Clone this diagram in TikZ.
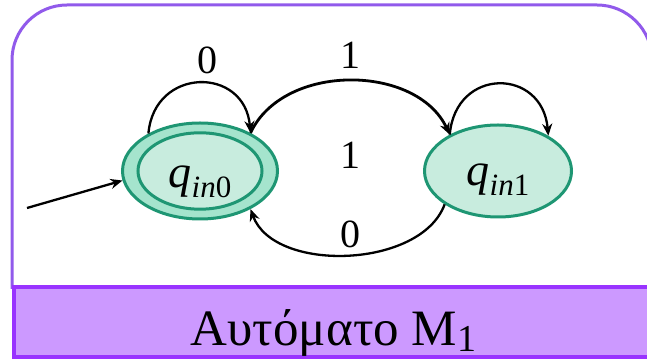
\documentclass[tikz,border=0pt]{standalone}
\usepackage{fontspec}
\setmainfont{Liberation Serif}
\usetikzlibrary{shapes.geometric, arrows.meta, positioning}
\definecolor{framepurple}{RGB}{145,90,235}
\definecolor{barfill}{RGB}{204,153,255}
\definecolor{barline}{RGB}{153,51,255}
\definecolor{stateline}{RGB}{30,150,115}
\definecolor{statefill}{RGB}{200,236,222}
\definecolor{ringfill}{RGB}{165,228,205}
\newcommand{\qsub}[1]{\textit{q}\raisebox{-10pt}{\fontsize{31}{31}\selectfont\textit{in}#1}}
\tikzset{
    state/.style = {ellipse, draw=stateline, line width=3pt, fill=statefill, inner sep=0pt, minimum width=147pt, minimum height=92pt, font=\fontsize{46}{46}\selectfont},
    ring/.style = {state, fill=ringfill, minimum width=155pt, minimum height=96pt},
    innerstate/.style = {state, minimum width=124pt, minimum height=74pt},
    bar/.style = {rectangle, draw=barline, line width=4pt, fill=barfill, minimum width=658pt, minimum height=70pt, inner sep=0pt},
    lbl/.style = {font=\fontsize{40}{40}\selectfont, inner sep=0pt},
    arrow/.style = {line width=2.3pt, -{Stealth[length=12pt,width=10pt]}}
}
\begin{document}
\begin{tikzpicture}[x=1pt, y=1pt, node distance=144pt]
\useasboundingbox (0,0) rectangle (647,363);
\draw [framepurple, line width=3pt, rounded corners=55pt] (12,74) -- (12,358) -- (652,358) -- (652,74);
\node (bar) [bar, anchor=south west] at (12,4) {};
\node (title) [anchor=base, font=\fontsize{51}{51}\selectfont] at (333.5,17) {Αυτόματο M\raisebox{-6pt}{\fontsize{38}{38}\selectfont 1}};

\node (q0) [ring] at (200,192) {};
\node (q0in) [innerstate, text height=44pt, text depth=10pt] at (q0) {\qsub{0}};
\node (q1) [state, right=of q0, text height=40pt, text depth=10pt] {\qsub{1}};
\coordinate (start) at (27,155);

\draw [arrow] (start) -- (q0.187);
\draw [arrow] (q0.144) to[out=85, in=95, looseness=1.68] (q0.37);
\draw [arrow, line width=2.8pt] (q0.37) to[out=65, in=115, looseness=1] (q1.143);
\draw [arrow] (q1.143) to[out=85, in=95, looseness=1.77] (q1.35);
\draw [arrow] (q1.212) to[out=250, in=290, looseness=0.9] (q0.323);

\node (l00) [lbl] at (207,303) {0};
\node (l01) [lbl] at (350,308) {1};
\node (lmid) [lbl] at (350,208) {1};
\node (l10) [lbl] at (350,129) {0};
\end{tikzpicture}
\end{document}
